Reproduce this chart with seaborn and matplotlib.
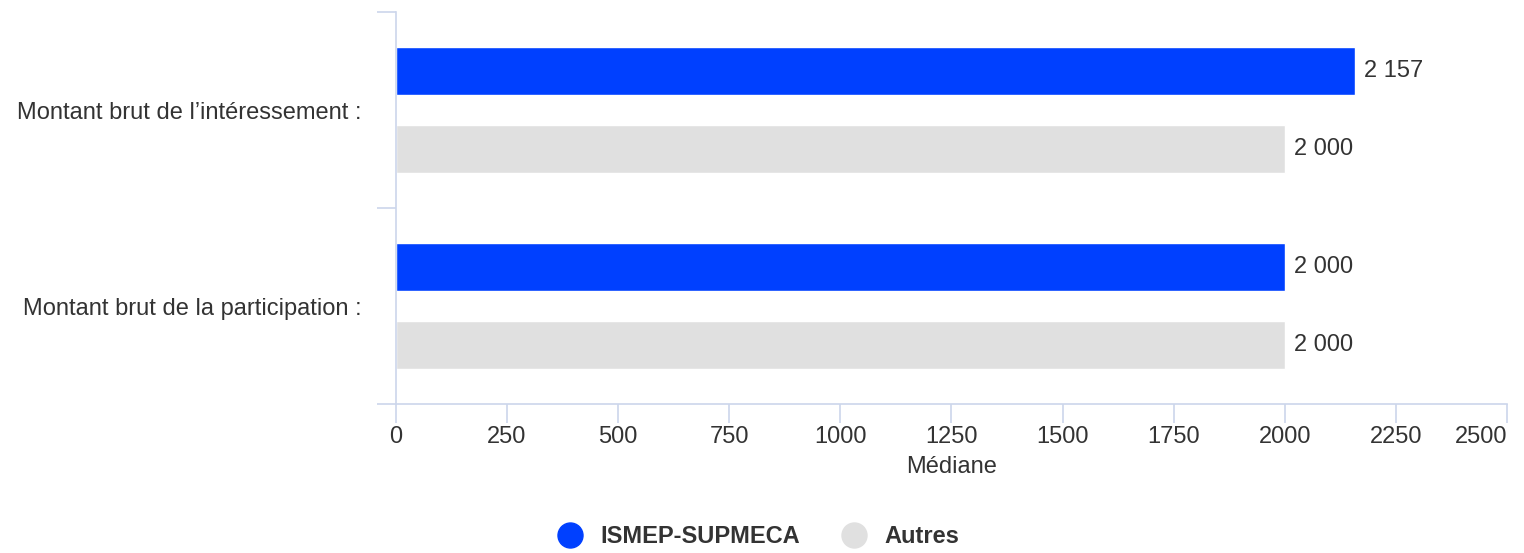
import matplotlib
matplotlib.use("Agg")
import matplotlib.pyplot as plt
from matplotlib.lines import Line2D
import seaborn as sns
import pandas as pd

categories = ["Montant brut de l\u2019intéressement :", "Montant brut de la participation :"]
series = ["ISMEP-SUPMECA", "Autres"]
ismep_values = [2157, 2000]
autres_values = [2000, 2000]
x_ticks = [0, 250, 500, 750, 1000, 1250, 1500, 1750, 2000, 2250, 2500]

colors = {"ISMEP-SUPMECA": "#0040ff", "Autres": "#e0e0e0"}
axis_color = "#ccd6eb"
text_color = "#333333"
fs = 17

df = pd.DataFrame({
    "categorie": categories * 2,
    "serie": [series[0]] * len(categories) + [series[1]] * len(categories),
    "valeur": ismep_values + autres_values,
})

sns.set_theme(style="white")
plt.rcParams["font.family"] = ["Liberation Sans", "DejaVu Sans"]

fig = plt.figure(figsize=(15.24, 5.53), dpi=100)
ax = fig.add_axes([0.2598, 0.2694, 0.9888 - 0.2598, 0.9783 - 0.2694])

sns.barplot(data=df, y="categorie", x="valeur", hue="serie", orient="h",
            palette=colors, hue_order=series, order=categories,
            width=0.8, gap=0.39, legend=False, ax=ax, saturation=1)

ax.set_xlim(0, 2500)
ax.set_ylim(1.5, -0.5)
ax.set_xticks(x_ticks)
ax.set_xticklabels([str(t) for t in x_ticks], fontsize=fs, color=text_color)
# last label sits at the right edge: align it to the right like the original
ax.get_xticklabels()[-1].set_horizontalalignment("right")
ax.tick_params(axis="x", bottom=True, length=13.7, width=1.2, color=axis_color, pad=2, direction="out")
ax.tick_params(axis="y", which="major", left=True, length=0, pad=25, labelsize=fs, labelcolor=text_color)
ax.set_yticks([-0.5, 0.5, 1.5], minor=True)
ax.tick_params(axis="y", which="minor", left=True, length=13.7, width=1.2, color=axis_color, direction="out")
ax.set_xlabel("Médiane", fontsize=fs, color=text_color, labelpad=6)
ax.set_ylabel("")

for side in ["top", "right"]:
    ax.spines[side].set_visible(False)
for side in ["left", "bottom"]:
    ax.spines[side].set_color(axis_color)
    ax.spines[side].set_linewidth(1.2)

# value labels with French thousands separator
for container in ax.containers:
    labels = [f"{v:,.0f}".replace(",", " ") for v in container.datavalues]
    ax.bar_label(container, labels=labels, padding=7, fontsize=fs, color=text_color)

handles = [Line2D([0], [0], marker="o", linestyle="", markersize=18,
                  markerfacecolor=colors[s], markeredgecolor=colors[s], label=s)
           for s in series]
fig.legend(handles=handles, loc="center", bbox_to_anchor=(0.494, 0.03), ncol=2,
           frameon=False, handletextpad=0.3, columnspacing=1.3,
           prop={"weight": "bold", "size": fs}, labelcolor=text_color)

fig.savefig("out.png", dpi=100)
